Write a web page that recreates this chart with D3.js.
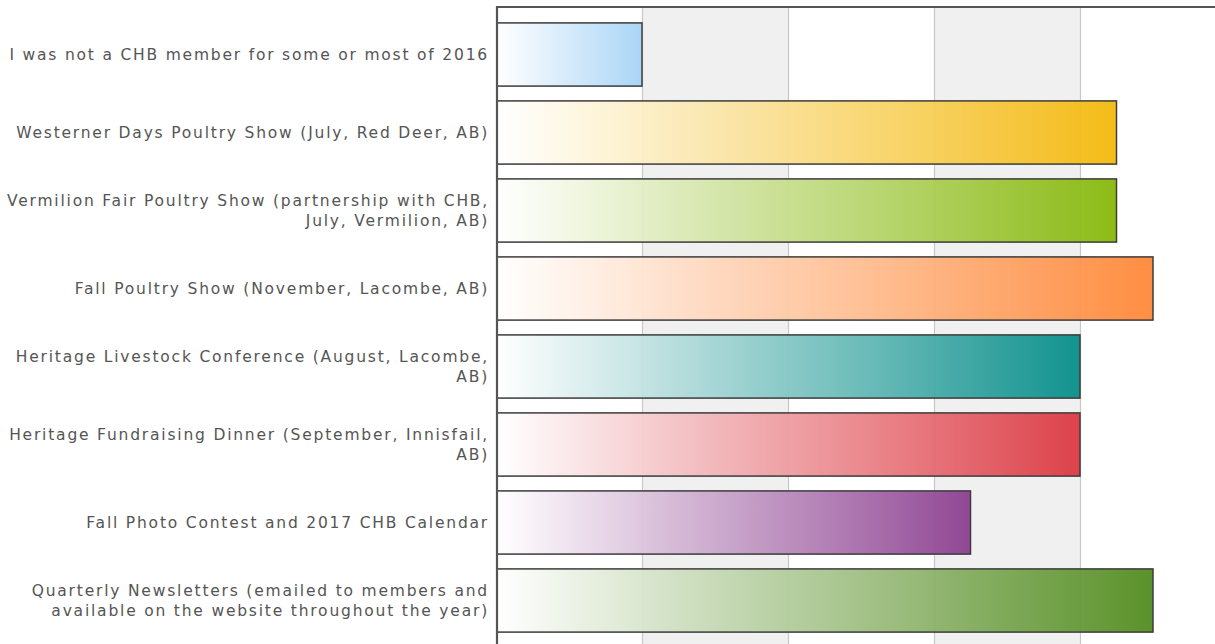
<!DOCTYPE html>
<html><head><meta charset="utf-8">
<script src="https://cdn.jsdelivr.net/npm/d3@7"></script>
<style>html,body{margin:0;padding:0;background:#fff;}svg{display:block;}</style>
</head><body>
<svg id="c" width="1215" height="644"></svg>
<script>
const categories = [
  "I was not a CHB member for some or most of 2016",
  "Westerner Days Poultry Show (July, Red Deer, AB)",
  "Vermilion Fair Poultry Show (partnership with CHB,\nJuly, Vermilion, AB)",
  "Fall Poultry Show (November, Lacombe, AB)",
  "Heritage Livestock Conference (August, Lacombe,\nAB)",
  "Heritage Fundraising Dinner (September, Innisfail,\nAB)",
  "Fall Photo Contest and 2017 CHB Calendar",
  "Quarterly Newsletters (emailed to members and\navailable on the website throughout the year)"
];
const values = [20, 85, 85, 90, 80, 80, 65, 90];
const colors = ["#a6d3f6", "#f4b90c", "#86b80a", "#ff8838", "#078e8a", "#dc3942", "#8c3f90", "#528c1f"];
const xTicks = [0, 20, 40, 60, 80, 100];

(function () {
const svg = d3.select("#c");
const x0 = 496, xRightFull = 1226, plotTop = 7, plotBottom = 644;
const x = d3.scaleLinear().domain([0, 100]).range([x0, xRightFull]);
const y = d3.scaleBand().domain(categories).range([15.5, 15.5 + 78 * 8]).paddingInner(0.19).paddingOuter(0.095);

const defs = svg.append("defs");
colors.forEach((c, i) => {
  const g = defs.append("linearGradient").attr("id", "g" + i).attr("x1", "0%").attr("x2", "100%").attr("y1", "0").attr("y2", "0");
  g.append("stop").attr("offset", "0%").attr("stop-color", "#ffffff");
  g.append("stop").attr("offset", "100%").attr("stop-color", c);
});

const bandG = svg.append("g");
for (let i = 0; i < xTicks.length - 1; i++) {
  if (i % 2 === 1) {
    bandG.append("rect").attr("x", x(xTicks[i])).attr("y", plotTop)
      .attr("width", x(xTicks[i + 1]) - x(xTicks[i])).attr("height", plotBottom - plotTop)
      .attr("fill", "#f0f0f0");
  }
}
svg.append("g").selectAll("line").data(xTicks.slice(1)).join("line")
  .attr("x1", d => x(d) + 0.5).attr("x2", d => x(d) + 0.5)
  .attr("y1", plotTop).attr("y2", plotBottom)
  .attr("stroke", "#c8c8c8").attr("stroke-width", 1.2);

svg.append("g").selectAll("rect").data(categories).join("rect")
  .attr("x", x(0) + 1)
  .attr("y", d => y(d))
  .attr("width", (d, i) => x(values[i]) - x(0) - 1)
  .attr("height", y.bandwidth())
  .attr("fill", (d, i) => `url(#g${i})`)
  .attr("fill-opacity", 0.95)
  .attr("stroke", "#3c3c3c")
  .attr("stroke-width", 1.5);

svg.append("line").attr("x1", x0).attr("x2", 1215).attr("y1", plotTop).attr("y2", plotTop)
  .attr("stroke", "#555").attr("stroke-width", 2.2);
svg.append("line").attr("x1", x0 + 1).attr("x2", x0 + 1).attr("y1", plotTop - 1).attr("y2", plotBottom)
  .attr("stroke", "#555").attr("stroke-width", 2.2);

const lab = svg.append("g").attr("font-family", "DejaVu Sans, Verdana, sans-serif")
  .attr("font-size", 15.5).attr("fill", "#555").attr("text-anchor", "end")
  .style("letter-spacing", "1.8px");
categories.forEach(c => {
  const lines = c.split("\n");
  const cy = y(c) + y.bandwidth() / 2;
  const lh = 20;
  const t = lab.append("text").attr("x", 489).attr("y", cy - (lines.length - 1) * lh / 2);
  lines.forEach((l, j) => {
    t.append("tspan").attr("x", 489).attr("dy", j === 0 ? "0.36em" : lh).text(l);
  });
});
})();
</script>
</body></html>
